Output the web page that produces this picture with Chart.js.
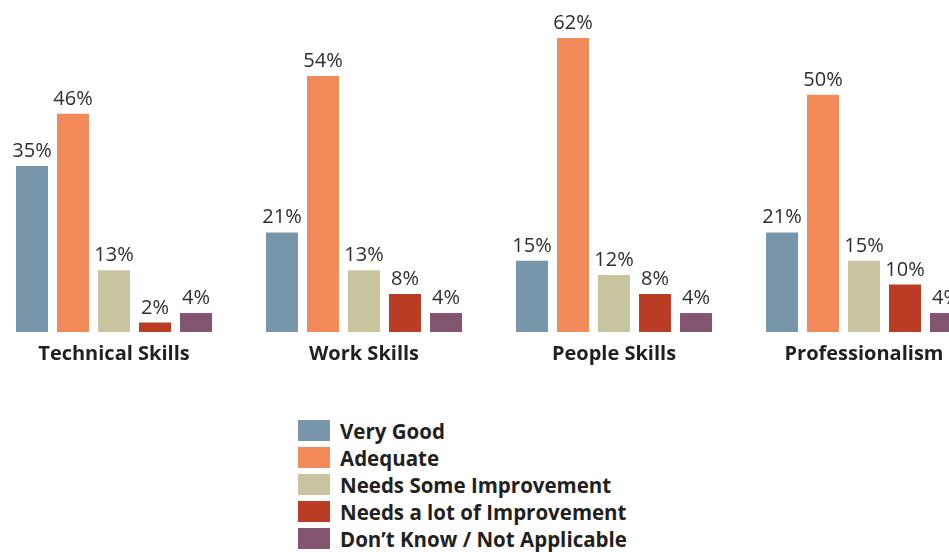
<!DOCTYPE html>
<html>
<head>
<meta charset="utf-8">
<script src="https://cdn.jsdelivr.net/npm/chart.js@4"></script>
<style>
  html, body { margin: 0; padding: 0; background: #fff; overflow: hidden; width: 949px; height: 552px; }
  #wrap { position: absolute; left: -11px; top: 0; width: 1000px; height: 376px; }
  #legend { position: absolute; left: 298px; top: 420px; font-family: "Open Sans", sans-serif; font-weight: bold; font-size: 20.5px; color: #231f20; }
  .row { display: flex; align-items: center; height: 21px; margin-bottom: 6px; }
  .sw { width: 32px; height: 21px; margin-right: 10px; }
</style>
</head>
<body>
<div id="wrap"><canvas id="chart"></canvas></div>
<div id="legend"></div>
<script>
// Categories and series
const categories = ["Technical Skills", "Work Skills", "People Skills", "Professionalism"];
const seriesNames = ["Very Good", "Adequate", "Needs Some Improvement", "Needs a lot of Improvement", "Don\u2019t Know / Not Applicable"];
const seriesColors = ["#7896aa", "#f28a5a", "#c9c4a0", "#bb3c25", "#84556f"];

const veryGood = [35, 21, 15, 21];
const adequate = [46, 54, 62, 50];
const needsSome = [13, 13, 12, 15];
const needsLot = [2, 8, 8, 10];
const dontKnow = [4, 4, 4, 4];

const seriesValues = [veryGood, adequate, needsSome, needsLot, dontKnow];

// Draw the % labels above each bar
const valueLabels = {
  id: "valueLabels",
  afterDatasetsDraw(chart) {
    const ctx = chart.ctx;
    ctx.save();
    ctx.font = "20px 'Open Sans', sans-serif";
    ctx.fillStyle = "#2e2e2e";
    ctx.textAlign = "center";
    ctx.textBaseline = "alphabetic";
    chart.data.datasets.forEach((ds, i) => {
      const meta = chart.getDatasetMeta(i);
      meta.data.forEach((bar, j) => {
        ctx.fillText(ds.data[j] + "%", bar.x, bar.y - 9);
      });
    });
    ctx.restore();
  }
};

const ctx = document.getElementById("chart").getContext("2d");
new Chart(ctx, {
  type: "bar",
  data: {
    labels: categories,
    datasets: seriesNames.map((name, i) => ({
      label: name,
      data: seriesValues[i],
      backgroundColor: seriesColors[i],
      borderWidth: 0,
      categoryPercentage: 0.82,
      barPercentage: 0.78
    }))
  },
  options: {
    responsive: true,
    maintainAspectRatio: false,
    animation: false,
    layout: { padding: 0 },
    plugins: {
      legend: { display: false },
      tooltip: { enabled: false }
    },
    scales: {
      x: {
        grid: { display: false, drawTicks: false },
        border: { display: false },
        ticks: {
          padding: 10,
          color: "#231f20",
          font: { family: "'Open Sans', sans-serif", size: 20, weight: "bold" }
        }
      },
      y: {
        display: false,
        min: 0,
        max: 70
      }
    }
  },
  plugins: [valueLabels]
});

// Legend built from the same arrays
const legend = document.getElementById("legend");
legend.innerHTML = seriesNames
  .map((name, i) => `
    <div class="row">
      <div class="sw" style="background:${seriesColors[i]}"></div>
      <span>${name}</span>
    </div>
  `)
  .join("");
</script>
</body>
</html>
